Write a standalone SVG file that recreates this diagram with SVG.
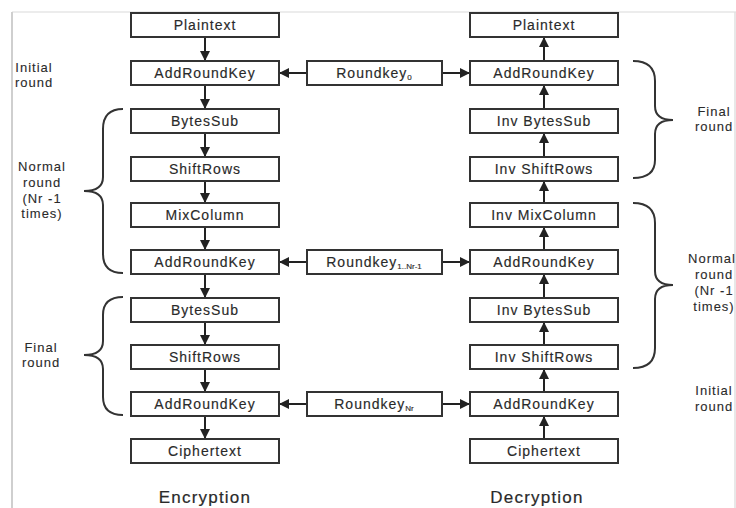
<svg xmlns="http://www.w3.org/2000/svg" width="736" height="508" viewBox="0 0 736 508">
<style>
.bx{fill:#fff;stroke:#333;stroke-width:2}
.t{font-family:"Liberation Sans",Arial,sans-serif;font-size:14px;letter-spacing:1px;fill:#2a2a2a;stroke:#2a2a2a;stroke-width:0.15;text-anchor:middle}
.sub{font-size:8px;letter-spacing:0}
.lb{font-family:"Liberation Sans",Arial,sans-serif;font-size:13px;letter-spacing:1px;fill:#2a2a2a;stroke:#2a2a2a;stroke-width:0.1;text-anchor:middle}
.big{font-family:"Liberation Sans",Arial,sans-serif;font-size:17px;letter-spacing:1.2px;fill:#2a2a2a;stroke:#2a2a2a;stroke-width:0.2;text-anchor:middle}
.c{stroke:#222;stroke-width:2;fill:none}
.br{stroke:#333;stroke-width:2;fill:none}
</style>
<defs>
<marker id="ah" viewBox="0 0 10 10" refX="10" refY="5" markerWidth="10" markerHeight="11" markerUnits="userSpaceOnUse" orient="auto">
<path d="M0,0 L10,5 L0,10 z" fill="#222"/>
</marker>
</defs>
<rect width="736" height="508" fill="#fff"/>
<g id="frame">
<line x1="12" y1="12" x2="736" y2="12" stroke="#e6e6e6" stroke-width="1.5"/>
<line x1="12" y1="12" x2="12" y2="508" stroke="#cfcfcf" stroke-width="2"/>
<line x1="735" y1="12" x2="735" y2="508" stroke="#e0e0e0" stroke-width="1.5"/>
</g>
<g id="connectors">
<line class="c" x1="205" y1="37" x2="205" y2="61" marker-end="url(#ah)"/>
<line class="c" x1="205" y1="85" x2="205" y2="109" marker-end="url(#ah)"/>
<line class="c" x1="205" y1="133" x2="205" y2="157" marker-end="url(#ah)"/>
<line class="c" x1="205" y1="181" x2="205" y2="203" marker-end="url(#ah)"/>
<line class="c" x1="205" y1="227" x2="205" y2="250" marker-end="url(#ah)"/>
<line class="c" x1="205" y1="274" x2="205" y2="298" marker-end="url(#ah)"/>
<line class="c" x1="205" y1="322" x2="205" y2="345" marker-end="url(#ah)"/>
<line class="c" x1="205" y1="369" x2="205" y2="392" marker-end="url(#ah)"/>
<line class="c" x1="205" y1="416" x2="205" y2="439" marker-end="url(#ah)"/>
<line class="c" x1="544" y1="61" x2="544" y2="37" marker-end="url(#ah)"/>
<line class="c" x1="544" y1="109" x2="544" y2="85" marker-end="url(#ah)"/>
<line class="c" x1="544" y1="157" x2="544" y2="133" marker-end="url(#ah)"/>
<line class="c" x1="544" y1="203" x2="544" y2="181" marker-end="url(#ah)"/>
<line class="c" x1="544" y1="250" x2="544" y2="227" marker-end="url(#ah)"/>
<line class="c" x1="544" y1="298" x2="544" y2="274" marker-end="url(#ah)"/>
<line class="c" x1="544" y1="345" x2="544" y2="322" marker-end="url(#ah)"/>
<line class="c" x1="544" y1="392" x2="544" y2="369" marker-end="url(#ah)"/>
<line class="c" x1="544" y1="439" x2="544" y2="416" marker-end="url(#ah)"/>
<line class="c" x1="307" y1="73" x2="279" y2="73" marker-end="url(#ah)"/>
<line class="c" x1="442" y1="73" x2="470" y2="73" marker-end="url(#ah)"/>
<line class="c" x1="307" y1="262" x2="279" y2="262" marker-end="url(#ah)"/>
<line class="c" x1="442" y1="262" x2="470" y2="262" marker-end="url(#ah)"/>
<line class="c" x1="307" y1="404" x2="279" y2="404" marker-end="url(#ah)"/>
<line class="c" x1="442" y1="404" x2="470" y2="404" marker-end="url(#ah)"/>
</g>
<g id="enc-plaintext"><rect class="bx" x="131" y="13" width="148" height="24"/><text class="t" x="205" y="30">Plaintext</text></g>
<g id="enc-ark0"><rect class="bx" x="131" y="61" width="148" height="24"/><text class="t" x="205" y="78">AddRoundKey</text></g>
<g id="enc-bytessub1"><rect class="bx" x="131" y="109" width="148" height="24"/><text class="t" x="205" y="126">BytesSub</text></g>
<g id="enc-shiftrows1"><rect class="bx" x="131" y="157" width="148" height="24"/><text class="t" x="205" y="174">ShiftRows</text></g>
<g id="enc-mixcolumn"><rect class="bx" x="131" y="203" width="148" height="24"/><text class="t" x="205" y="220">MixColumn</text></g>
<g id="enc-ark1"><rect class="bx" x="131" y="250" width="148" height="24"/><text class="t" x="205" y="267">AddRoundKey</text></g>
<g id="enc-bytessub2"><rect class="bx" x="131" y="298" width="148" height="24"/><text class="t" x="205" y="315">BytesSub</text></g>
<g id="enc-shiftrows2"><rect class="bx" x="131" y="345" width="148" height="24"/><text class="t" x="205" y="362">ShiftRows</text></g>
<g id="enc-ark2"><rect class="bx" x="131" y="392" width="148" height="24"/><text class="t" x="205" y="409">AddRoundKey</text></g>
<g id="enc-ciphertext"><rect class="bx" x="131" y="439" width="148" height="24"/><text class="t" x="205" y="456">Ciphertext</text></g>
<g id="dec-plaintext"><rect class="bx" x="470" y="13" width="148" height="24"/><text class="t" x="544" y="30">Plaintext</text></g>
<g id="dec-ark0"><rect class="bx" x="470" y="61" width="148" height="24"/><text class="t" x="544" y="78">AddRoundKey</text></g>
<g id="dec-invbytessub1"><rect class="bx" x="470" y="109" width="148" height="24"/><text class="t" x="544" y="126">Inv BytesSub</text></g>
<g id="dec-invshiftrows1"><rect class="bx" x="470" y="157" width="148" height="24"/><text class="t" x="544" y="174">Inv ShiftRows</text></g>
<g id="dec-invmixcolumn"><rect class="bx" x="470" y="203" width="148" height="24"/><text class="t" x="544" y="220">Inv MixColumn</text></g>
<g id="dec-ark1"><rect class="bx" x="470" y="250" width="148" height="24"/><text class="t" x="544" y="267">AddRoundKey</text></g>
<g id="dec-invbytessub2"><rect class="bx" x="470" y="298" width="148" height="24"/><text class="t" x="544" y="315">Inv BytesSub</text></g>
<g id="dec-invshiftrows2"><rect class="bx" x="470" y="345" width="148" height="24"/><text class="t" x="544" y="362">Inv ShiftRows</text></g>
<g id="dec-ark2"><rect class="bx" x="470" y="392" width="148" height="24"/><text class="t" x="544" y="409">AddRoundKey</text></g>
<g id="dec-ciphertext"><rect class="bx" x="470" y="439" width="148" height="24"/><text class="t" x="544" y="456">Ciphertext</text></g>
<g id="roundkey0"><rect class="bx" x="307" y="61" width="135" height="24"/><text class="t" x="374" y="78">Roundkey<tspan class="sub" dy="2">0</tspan></text></g>
<g id="roundkey1"><rect class="bx" x="307" y="250" width="135" height="24"/><text class="t" x="374" y="267">Roundkey<tspan class="sub" dy="2">1..Nr-1</tspan></text></g>
<g id="roundkeyNr"><rect class="bx" x="307" y="392" width="135" height="24"/><text class="t" x="374" y="409">Roundkey<tspan class="sub" dy="2">Nr</tspan></text></g>
<g id="braces">
<path class="br" d="M123,109 Q103,109 103,129 L103,177 Q103,191 84,191 Q103,191 103,205 L103,254 Q103,273 123,273"/>
<path class="br" d="M123,297 Q103,297 103,315 L103,341 Q103,355 84,355 Q103,355 103,369 L103,397 Q103,415 123,415"/>
<path class="br" d="M633,61 Q655,61 655,81 L655,106 Q655,120 673,120 Q655,120 655,134 L655,160 Q655,178 633,178"/>
<path class="br" d="M633,203 Q655,203 655,223 L655,271 Q655,285 673,285 Q655,285 655,299 L655,348 Q655,368 633,368"/>
</g>
<g id="labels">
<text class="lb" x="34" y="72">Initial</text>
<text class="lb" x="34" y="87">round</text>
<text class="lb" x="42" y="171">Normal</text>
<text class="lb" x="42" y="187">round</text>
<text class="lb" x="42" y="203">(Nr -1</text>
<text class="lb" x="42" y="218">times)</text>
<text class="lb" x="41" y="352">Final</text>
<text class="lb" x="41" y="367">round</text>
<text class="lb" x="714" y="116">Final</text>
<text class="lb" x="714" y="131">round</text>
<text class="lb" x="712" y="263">Normal</text>
<text class="lb" x="714" y="279">round</text>
<text class="lb" x="714" y="295">(Nr -1</text>
<text class="lb" x="714" y="311">times)</text>
<text class="lb" x="714" y="395">Initial</text>
<text class="lb" x="714" y="411">round</text>
<text class="big" x="205" y="503">Encryption</text>
<text class="big" x="537" y="503">Decryption</text>
</g>
</svg>
